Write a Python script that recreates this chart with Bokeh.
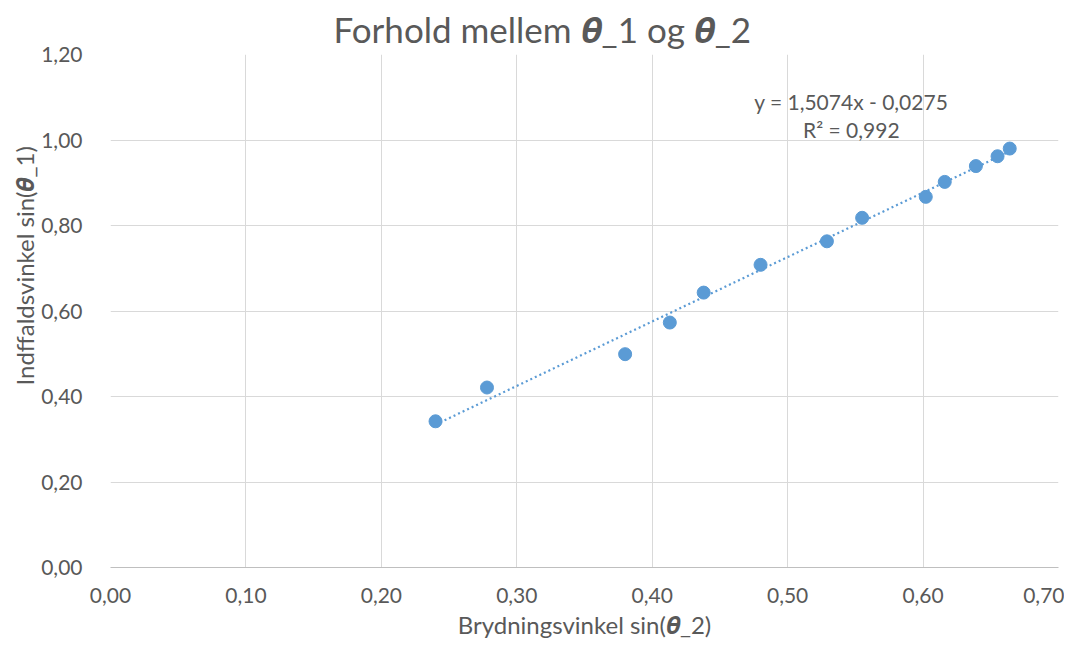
from bokeh.plotting import figure
from bokeh.models import Label, CustomJSTickFormatter, FixedTicker, Range1d, Title
from bokeh.embed import file_html
from bokeh.resources import INLINE
import numpy as np

# data
sin_theta2 = [0.240, 0.278, 0.380, 0.413, 0.438, 0.480, 0.529, 0.555, 0.602, 0.616, 0.639, 0.655, 0.664]
sin_theta1 = [0.342, 0.421, 0.499, 0.573, 0.643, 0.708, 0.763, 0.818, 0.867, 0.902, 0.939, 0.962, 0.980]
slope = 1.5074
intercept = -0.0275
x_ticks = [0.0, 0.1, 0.2, 0.3, 0.4, 0.5, 0.6, 0.7]
y_ticks = [0.0, 0.2, 0.4, 0.6, 0.8, 1.0, 1.2]
title_text = "Forhold mellem 𝜽_1 og 𝜽_2"
eq_text = "y = 1,5074x - 0,0275"
r2_text = "R² = 0,992"
x_label = "Brydningsvinkel sin(𝜽_2)"
y_label = "Indffaldsvinkel sin(𝜽_1)"

FONT = "Lato"
GREY = "#595959"
BLUE = "#5b9bd5"

p = figure(width=1064, height=641, output_backend="svg", toolbar_location=None,
           x_range=Range1d(0, 0.7), y_range=Range1d(0, 1.2),
           min_border_left=110, min_border_right=6, min_border_top=52, min_border_bottom=70,
           title=title_text)
p.title.align = "left"
p.title.offset = 223
p.title.text_font = FONT
p.title.text_font_size = "35px"
p.title.text_font_style = "normal"
p.title.text_color = GREY
p.outline_line_color = None

fmt = CustomJSTickFormatter(code="return tick.toFixed(2).replace('.', ',');")
p.xaxis.ticker = FixedTicker(ticks=x_ticks)
p.yaxis.ticker = FixedTicker(ticks=y_ticks)
p.xaxis.formatter = fmt
p.yaxis.formatter = fmt
for ax in (p.xaxis, p.yaxis):
    ax.major_tick_line_color = None
    ax.minor_tick_line_color = None
    ax.major_label_text_font = FONT
    ax.major_label_text_font_size = "21px"
    ax.major_label_text_color = GREY
    ax.axis_label_text_font = FONT
    ax.axis_label_text_font_size = "24px"
    ax.axis_label_text_font_style = "normal"
    ax.axis_label_text_color = GREY
p.xaxis.axis_line_color = "#bfbfbf"
p.yaxis.axis_line_color = None
p.xaxis.major_label_standoff = 14
p.yaxis.major_label_standoff = 22
p.xaxis.axis_label = x_label
p.xaxis.axis_label_standoff = 4

# y-axis title, placed like the original (centered on the chart area, not the plot frame)
p.add_layout(Title(text=y_label, align="left", offset=182, text_font=FONT, text_font_size="24px",
                   text_font_style="normal", text_color=GREY, standoff=0), "left")

p.xgrid.grid_line_color = "#d9d9d9"
p.ygrid.grid_line_color = "#d9d9d9"

xs = np.array([min(sin_theta2), max(sin_theta2)])
p.line(xs, slope * xs + intercept, line_color=BLUE, line_width=2.2, line_dash="2 3")
p.scatter(sin_theta2, sin_theta1, size=13, fill_color=BLUE, line_color=BLUE)

p.add_layout(Label(x=0.547, y=1.091, text=eq_text, text_align="center", text_baseline="middle",
                   text_font=FONT, text_font_size="21px", text_color=GREY))
p.add_layout(Label(x=0.547, y=1.024, text=r2_text, text_align="center", text_baseline="middle",
                   text_font=FONT, text_font_size="21px", text_color=GREY))

open("out.html", "w").write(file_html(p, INLINE))
